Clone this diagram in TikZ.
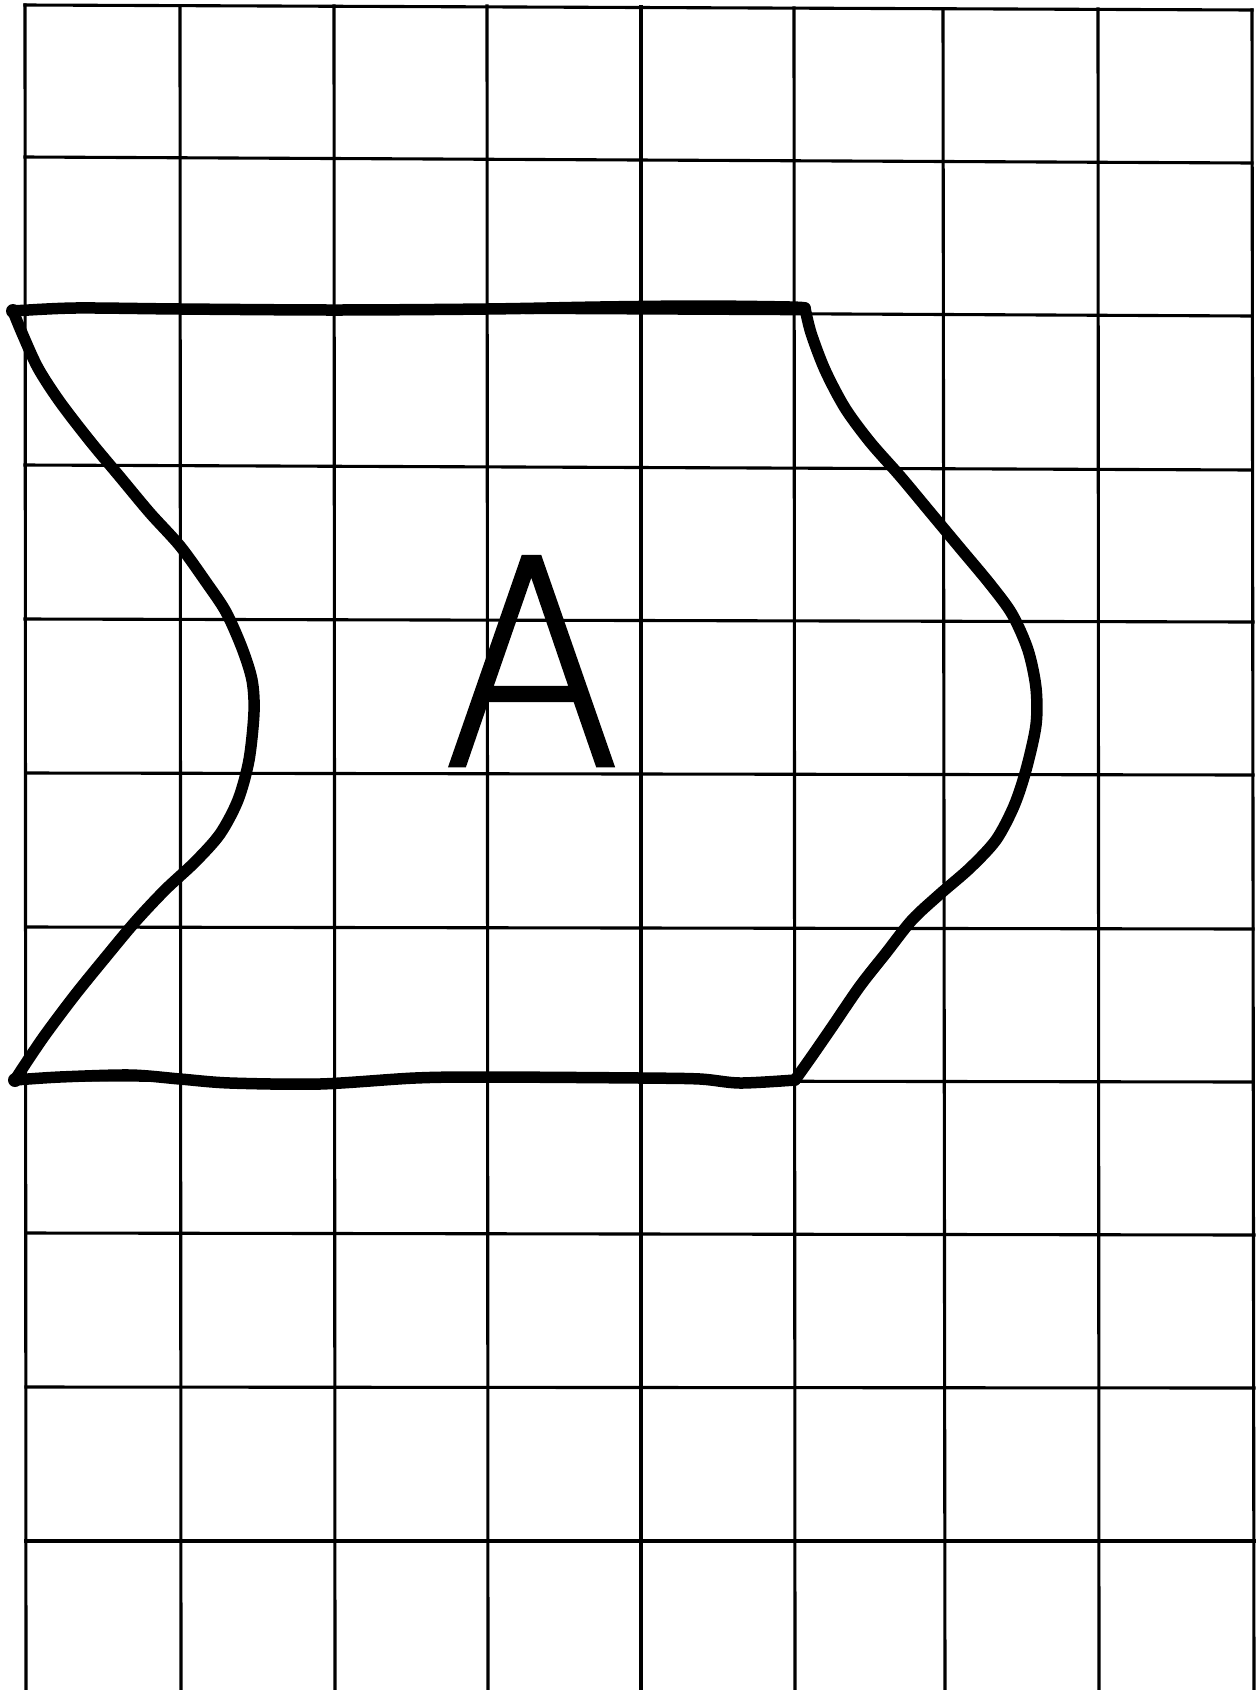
\documentclass[tikz,border=0pt]{standalone}
\usepackage{fontspec}
\usepackage{graphicx}
\IfFontExistsTF{DejaVu Sans ExtraLight}{\newfontfamily\letterfont{DejaVu Sans ExtraLight}[FakeBold=1.6]}{%
 \IfFontExistsTF{Noto Sans ExtraLight}{\newfontfamily\letterfont{Noto Sans ExtraLight}[FakeBold=1.6]}{%
  \IfFontExistsTF{Fira Sans ExtraLight}{\newfontfamily\letterfont{Fira Sans ExtraLight}[FakeBold=1.6]}{%
   \IfFontExistsTF{Noto Sans Thin}{\newfontfamily\letterfont{Noto Sans Thin}[FakeBold=1.6]}{%
    \IfFontExistsTF{Lato Hairline}{\newfontfamily\letterfont{Lato Hairline}[FakeBold=1.6]}{%
     \IfFontExistsTF{Open Sans Light}{\newfontfamily\letterfont{Open Sans Light}[FakeBold=1.6]}{%
      \newfontfamily\letterfont{DejaVu Sans}}}}}}}
\begin{document}
\begin{tikzpicture}[x=1pt,y=-1pt,
  gridline/.style={line width=3.1pt,line cap=rect,black},
  ink/.style={line width=11.5pt,line cap=round,line join=round,black},
  smoothink/.style={ink,smooth,tension=0.5}]
\useasboundingbox (0,0) rectangle (1260,1690);
\fill[white] (0,0) rectangle (1260,1690);
% vertical grid lines
\draw[gridline] (25,5) -- (26,1690);
\draw[gridline] (180,6) -- (181,1690);
\draw[gridline] (334,6) -- (335,1690);
\draw[gridline] (487,6) -- (488,1690);
\draw[gridline] (641,7) -- (641,1690);
\draw[gridline] (794,8) -- (795,1690);
\draw[gridline] (943,9) -- (945,1690);
\draw[gridline] (1098,9) -- (1099,1690);
\draw[gridline] (1252,10) -- (1254,1690);
% horizontal grid lines
\draw[gridline] (25,5) -- (1252,10);
\draw[gridline] (25,157) -- (1252,163);
\draw[gridline] (25,310) -- (1252,316);
\draw[gridline] (25,465) -- (1252,470);
\draw[gridline] (25,619) -- (1253,622);
\draw[gridline] (26,773) -- (1253,775);
\draw[gridline] (26,927) -- (1253,929);
\draw[gridline] (26,1080) -- (1253,1082);
\draw[gridline] (26,1233) -- (1254,1235);
\draw[gridline] (26,1387) -- (1254,1388);
\draw[gridline] (26,1541) -- (1254,1541);
% hand-drawn shape
\coordinate (tl) at (13,311);
\coordinate (tr) at (805,308);
\coordinate (bl) at (15,1080);
\coordinate (br) at (795,1080);
\draw[smoothink] plot coordinates {(tl) (75,308) (180,309) (334,310) (487,309) (600,307) (700,306) (790,307) (tr)};
\draw[smoothink] plot coordinates {(bl) (60,1077) (130,1075) (180,1079) (230,1083) (320,1084) (415,1078) (487,1077) (640,1078) (700,1079) (740,1083) (br)};
\draw[smoothink] plot coordinates {(tl) (22,333) (38,368) (60,402) (90,441) (120,477) (150,513) (180,546) (206,582) (226,612) (242,648) (252,680) (254,712) (249,760) (238,800) (220,834) (195,862) (165,890) (135,922) (105,958) (75,995) (45,1035) (24,1066) (bl)};
\draw[smoothink] plot coordinates {(tr) (811,333) (825,370) (845,408) (870,442) (900,476) (930,512) (960,548) (990,584) (1012,614) (1028,650) (1036,688) (1036,725) (1026,770) (1014,806) (996,840) (970,868) (940,894) (912,920) (886,953) (860,986) (832,1027) (812,1056) (br)};
\fill (tl) circle (7pt);
\fill (bl) circle (7pt);
% letter
\node[font=\letterfont\fontsize{285}{285}\selectfont,inner sep=0pt,anchor=base] (letterA) at (532,765) {\scalebox{0.91}[1]{A}};
\end{tikzpicture}
\end{document}
